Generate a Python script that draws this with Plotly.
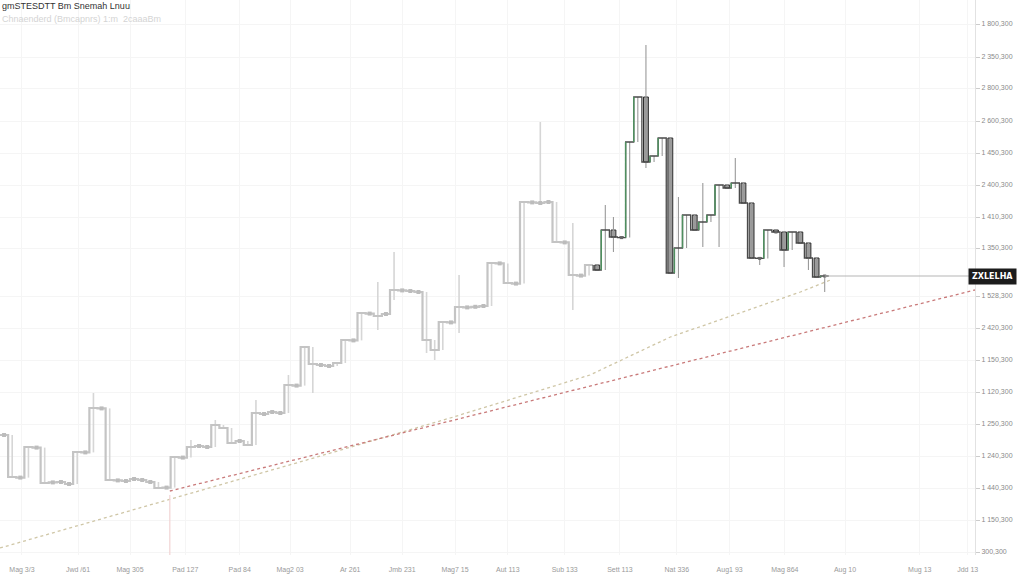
import plotly.graph_objects as go

# ---------------- data ----------------
title_text = "gmSTESDTT Bm Snemah Lnuu"
subtitle_text = "Chnaenderd (Bmcapnrs) 1:m  2caaaBm"
last_tag = "ZXLELHA"

first_open = 1830
closes = [1825, 1615, 1612, 1765, 1762, 1585, 1588, 1590, 1580, 1740,
          1738, 1960, 1958, 1600, 1598, 1595, 1605, 1600, 1590, 1560,
          1562, 1715, 1712, 1765, 1770, 1765, 1875, 1860, 1785, 1795,
          1775, 1935, 1930, 1940, 1935, 2075, 2072, 2265, 2180, 2175,
          2170, 2185, 2300, 2298, 2435, 2432, 2420, 2430, 2550, 2548,
          2545, 2540, 2300, 2250, 2390, 2388, 2465, 2463, 2466, 2470,
          2685, 2683, 2585, 2582, 2990, 2988, 2985, 2990, 2790, 2788,
          2625, 2622, 2675, 2650, 2850, 2815, 2812, 3290, 3515, 3190,
          3220, 3310, 2635, 2760, 2925, 2850, 2890, 2925, 3075, 3060,
          3085, 2985, 2710, 2708, 2850, 2840, 2750, 2840, 2785, 2710,
          2615, 2620]

wick_high = {11: 2035, 23: 1800, 26: 1900, 31: 2000, 35: 2125, 46: 2590,
             48: 2740, 56: 2625, 66: 3390, 70: 2885, 74: 2975, 75: 2915,
             79: 3775, 83: 3015, 86: 3085, 90: 3210, 99: 2790}
wick_low = {38: 2035, 46: 2350, 48: 2500, 52: 2235, 53: 2200, 56: 2335,
            70: 2450, 75: 2740, 79: 3160, 83: 2610, 86: 2765, 88: 2765,
            93: 2675, 96: 2665, 99: 2650, 101: 2540}

ma_x = [-0.5, 18, 36.4, 54.9, 72.1, 82, 98, 101.7]
ma_y = [1260, 1475, 1690, 1910, 2125, 2315, 2540, 2600]

trend_x = [20.4, 119.5]
trend_y = [1545, 2550]

marker_x = [20.4, 20.4]
marker_y = [1525, 1225]

ytick_vals = [3880, 3715, 3560, 3395, 3235, 3075, 2915, 2760, 2520, 2360,
              2200, 2040, 1880, 1720, 1560, 1400, 1240]
ytick_text = ["1 800,300", "2 350,300", "2 800,300", "2 600,300", "1 450,300",
              "2 400,300", "1 410,300", "1 350,300", "1 528,300", "2 420,300",
              "1 150,300", "1 120,300", "1 250,300", "1 240,300", "1 440,300",
              "1 150,300", "300,300"]

xtick_vals = [2.2, 9.1, 15.5, 22.3, 29.0, 35.2, 42.6, 49.0, 55.5, 62.0,
              69.0, 75.8, 82.8, 89.3, 96.1, 103.5, 112.7, 118.6]
xtick_text = ["Mag 3/3", "Jwd /61", "Mag 305", "Pad 127", "Pad 84",
              "Mag2 03", "Ar 261", "Jmb 231", "Mag7 15", "Aut 113",
              "Sub 133", "Sett 113", "Nat 336", "Aug1 93", "Mag 864",
              "Aug 10", "Mug 13", "Jdd 13"]

# ---------------- build candles ----------------
n = len(closes)
idx = list(range(n))
opens = [first_open] + closes[:-1]
highs = [wick_high.get(i, max(opens[i], closes[i])) for i in idx]
lows = [wick_low.get(i, min(opens[i], closes[i])) for i in idx]

FADE_END = 73
SMALL = 12

fig = go.Figure()

# moving-average style curve and trend line
fig.add_trace(go.Scatter(x=ma_x, y=ma_y, mode="lines",
                         line=dict(color="#cfc6a6", width=1.3, dash="dot"),
                         hoverinfo="skip"))
fig.add_trace(go.Scatter(x=trend_x, y=trend_y, mode="lines",
                         line=dict(color="#c97a7a", width=1.3, dash="dot"),
                         hoverinfo="skip"))
fig.add_trace(go.Scatter(x=marker_x, y=marker_y, mode="lines",
                         line=dict(color="#f2d4d4", width=1.2),
                         hoverinfo="skip"))


def step_path(sel):
    px, py = [], []
    for i in sel:
        px += [i - 0.5, i - 0.5, i + 0.5]
        py += [opens[i], closes[i], closes[i]]
    return px, py


def wick_path(sel):
    wx, wy = [], []
    for i in sel:
        wx += [i, i, None]
        wy += [lows[i], highs[i], None]
    return wx, wy


left = [i for i in idx if i < FADE_END]
right = [i for i in idx if i >= FADE_END]

# faded left section
wx, wy = wick_path(left)
fig.add_trace(go.Scatter(x=wx, y=wy, mode="lines",
                         line=dict(color="#d6d6d6", width=1.6), hoverinfo="skip"))
sx, sy = step_path(left)
fig.add_trace(go.Scatter(x=sx, y=sy, mode="lines",
                         line=dict(color="#c4c4c4", width=2.2), hoverinfo="skip"))
dots = [i for i in left if abs(closes[i] - opens[i]) < SMALL]
fig.add_trace(go.Scatter(x=dots, y=[closes[i] for i in dots], mode="markers",
                         marker=dict(color="#bcbcbc", size=4, symbol="square"),
                         hoverinfo="skip"))

# sharper right section
wx, wy = wick_path(right)
fig.add_trace(go.Scatter(x=wx, y=wy, mode="lines",
                         line=dict(color="#9a9a9a", width=1.1), hoverinfo="skip"))
sx, sy = step_path(right)
fig.add_trace(go.Scatter(x=sx, y=sy, mode="lines",
                         line=dict(color="#4a4a4a", width=1.3), hoverinfo="skip"))

downs = [i for i in right if closes[i] < opens[i]]
fig.add_trace(go.Bar(x=downs, y=[opens[i] - closes[i] for i in downs],
                     base=[closes[i] for i in downs], width=0.6,
                     marker=dict(color="#9c9c9c", line=dict(color="#2e2e2e", width=1)),
                     hoverinfo="skip"))

ups = [i for i in right if closes[i] > opens[i]]
ux, uy = [], []
for i in ups:
    ux += [i - 0.5, i - 0.5, None]
    uy += [opens[i], closes[i], None]
fig.add_trace(go.Scatter(x=ux, y=uy, mode="lines",
                         line=dict(color="#4f8f5f", width=1.5), hoverinfo="skip"))

rdots = [i for i in right if abs(closes[i] - opens[i]) < SMALL]
fig.add_trace(go.Scatter(x=rdots, y=[closes[i] for i in rdots], mode="markers",
                         marker=dict(color="#666", size=3, symbol="square"),
                         hoverinfo="skip"))

# last price line
fig.add_trace(go.Scatter(x=[n - 1, 119.5], y=[closes[-1], closes[-1]],
                         mode="lines", line=dict(color="#b5b5b5", width=1),
                         hoverinfo="skip"))

fig.update_layout(
    width=1024, height=576,
    margin=dict(l=0, r=49, t=0, b=21),
    paper_bgcolor="white", plot_bgcolor="white",
    showlegend=False, barmode="overlay",
    font=dict(family="Liberation Sans", color="#777"),
    xaxis=dict(range=[-0.5, 119.5], tickvals=xtick_vals, ticktext=xtick_text,
               showgrid=True, gridcolor="#f5f5f5", zeroline=False,
               showline=False, ticks="outside", ticklen=8,
               tickcolor="rgba(0,0,0,0)",
               tickfont=dict(size=7, color="#9a9a9a")),
    yaxis=dict(range=[1225, 4000], side="right", tickvals=ytick_vals,
               ticktext=ytick_text, showgrid=True, gridcolor="#f5f5f5",
               zeroline=False, showline=True, linecolor="#e2e2e2",
               ticks="outside", ticklen=4, tickcolor="#cccccc",
               tickfont=dict(size=7, color="#8a8a8a")),
    annotations=[
        dict(text=title_text, xref="paper", yref="paper", x=0.0, y=1.0,
             xanchor="left", yanchor="top", yshift=1, showarrow=False,
             font=dict(size=9, color="#333")),
        dict(text=subtitle_text, xref="paper", yref="paper", x=0.0, y=1.0,
             xanchor="left", yanchor="top", yshift=-12, showarrow=False,
             font=dict(size=9, color="#d4d4d4")),
        dict(text="<b>" + last_tag + "</b>", xref="paper", yref="y", x=1.0,
             y=closes[-1], xanchor="left", yanchor="middle", xshift=-7,
             showarrow=False, bgcolor="#1c1c1c", borderpad=3,
             font=dict(size=8, color="white", family="DejaVu Sans")),
    ],
)

fig.write_html("out.html",
               config={"displayModeBar": False},
               post_script="document.body.style.margin='0';"
                           "document.body.style.overflow='hidden';")
